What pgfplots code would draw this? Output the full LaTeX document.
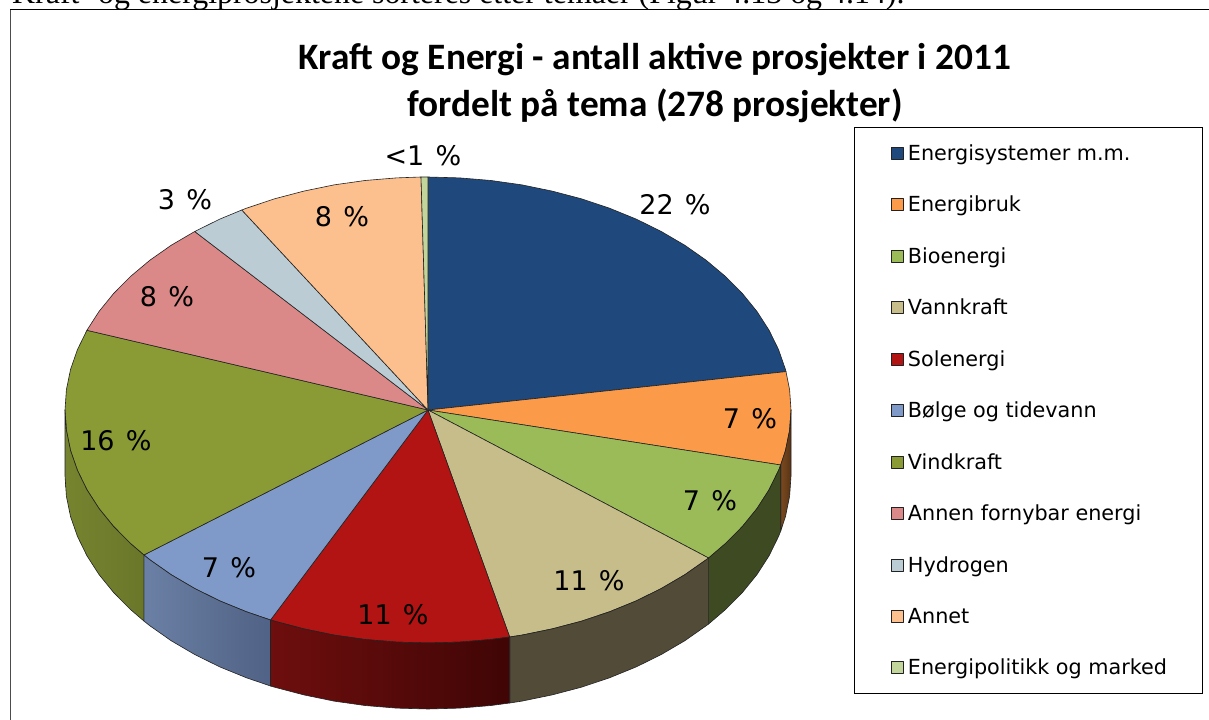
\documentclass[border=0pt]{standalone}
\usepackage{pgfplots}
\pgfplotsset{compat=1.18}
\usepackage{fontspec}
\setmainfont{DejaVu Sans}
\newfontfamily\titlefont{Carlito}
\newfontfamily\bodyfont{Liberation Serif}
\definecolor{c1}{HTML}{1F497D}
\definecolor{c2}{HTML}{FB9A48}
\definecolor{c3}{HTML}{9BBB59}
\definecolor{c4}{HTML}{C6BD8A}
\definecolor{c5}{HTML}{B21313}
\definecolor{c6}{HTML}{7F9AC8}
\definecolor{c7}{HTML}{8A9A35}
\definecolor{c8}{HTML}{DB8888}
\definecolor{c9}{HTML}{BCCCD4}
\definecolor{c10}{HTML}{FCC08F}
\definecolor{c11}{HTML}{C2D69B}
\definecolor{edge}{HTML}{222222}
\definecolor{sideOrA}{HTML}{7A4A20}
\definecolor{sideOrB}{HTML}{5A3414}
\definecolor{sideG}{HTML}{3E4A22}
\definecolor{sideT}{HTML}{524B38}
\definecolor{sideRa}{HTML}{6E0E0E}
\definecolor{sideRb}{HTML}{400505}
\definecolor{sideBa}{HTML}{6A80A4}
\definecolor{sideBb}{HTML}{506286}
\definecolor{sideOa}{HTML}{76842F}
\definecolor{sideOb}{HTML}{6A772A}
\newcommand{\pct}[1]{#1\hspace{.42em}\%}
\begin{document}
\begin{tikzpicture}
\clip[use as bounding box] (0,0) rectangle (1209bp,720bp);
\begin{axis}[
  at={(0,0)}, anchor=south west,
  width=1209bp, height=720bp, scale only axis,
  xmin=0, xmax=1209, ymin=0, ymax=720,
  hide axis, clip=false, no markers,
  legend cell align=left,
  legend image code/.code={
    \path[draw=none,fill=none] (0,-9bp) rectangle (52bp,9bp);
    \draw[draw=edge,line width=0.7bp,#1,draw=edge] (37bp,-6bp) rectangle (49bp,6bp);
  },
  legend style={
    at={(axis cs:853.5,593)}, anchor=north west,
    draw=black, line width=0.8bp, fill=white,
    inner xsep=0pt, inner ysep=15bp, row sep=30.3bp,
    column sep=0pt,
    font=\fontsize{20.75bp}{22bp}\selectfont,
  },
  every axis plot/.append style={line join=round},
]
% slices
\addplot[draw=edge,line width=0.6bp,fill=c1] coordinates {(428,310)(428,543)(459.6,542.1)(491,539.5)(522,535.1)(552.1,528.9)(581.4,521.2)(609.5,511.8)(636.2,500.9)(661.3,488.5)(684.7,474.8)(706.1,459.8)(725.4,443.6)(742.4,426.5)(757,408.5)(769.1,389.7)(778.6,370.3)(785.5,350.4)(786,348.4)} -- cycle;
\addlegendentry{\makebox[292bp][l]{Energisystemer m.m.}}
\addplot[draw=edge,line width=0.6bp,fill=c2] coordinates {(428,310)(786,348.4)(789.6,330.3)(791,310)(789.6,289.7)(785.5,269.6)(780.7,255)} -- cycle;
\addlegendentry{Energibruk}
\addplot[draw=edge,line width=0.6bp,fill=c3] coordinates {(428,310)(780.7,255)(778.6,249.7)(769.1,230.3)(757,211.5)(742.4,193.5)(725.4,176.4)(708.6,162)} -- cycle;
\addlegendentry{Bioenergi}
\addplot[draw=edge,line width=0.6bp,fill=c4] coordinates {(428,310)(708.6,162)(706.1,160.2)(684.7,145.2)(661.3,131.5)(636.2,119.1)(609.5,108.2)(581.4,98.8)(552.1,91.1)(522,84.9)(509.7,83)} -- cycle;
\addlegendentry{Vannkraft}
\addplot[draw=edge,line width=0.6bp,fill=c5] coordinates {(428,310)(509.7,83)(491,80.5)(459.6,77.9)(428,77)(396.4,77.9)(365,80.5)(334,84.9)(303.9,91.1)(274.6,98.8)(270.5,100)} -- cycle;
\addlegendentry{Solenergi}
\addplot[draw=edge,line width=0.6bp,fill=c6] coordinates {(428,310)(270.5,100)(246.5,108.2)(219.8,119.1)(194.7,131.5)(171.3,145.2)(149.9,160.2)(143.9,165)} -- cycle;
\addlegendentry{Bølge og tidevann}
\addplot[draw=edge,line width=0.6bp,fill=c7] coordinates {(428,310)(143.9,165)(130.6,176.4)(113.6,193.5)(99,211.5)(86.9,230.3)(77.4,249.7)(70.5,269.6)(66.4,289.7)(65,310)(66.4,330.3)(70.5,350.4)(77.4,370.3)(86.9,389.7)} -- cycle;
\addlegendentry{Vindkraft}
\addplot[draw=edge,line width=0.6bp,fill=c8] coordinates {(428,310)(86.9,389.7)(99,408.5)(113.6,426.5)(130.6,443.6)(149.9,459.8)(171.3,474.8)(194.7,488.5)} -- cycle;
\addlegendentry{Annen fornybar energi}
\addplot[draw=edge,line width=0.6bp,fill=c9] coordinates {(428,310)(194.7,488.5)(219.8,500.9)(241.8,510)} -- cycle;
\addlegendentry{Hydrogen}
\addplot[draw=edge,line width=0.6bp,fill=c10] coordinates {(428,310)(241.8,510)(246.5,511.8)(274.6,521.2)(303.9,528.9)(334,535.1)(365,539.5)(396.4,542.1)(421,543)} -- cycle;
\addlegendentry{Annet}
\addplot[draw=edge,line width=0.6bp,fill=c11] coordinates {(428,310)(421,543)(428,543)} -- cycle;
\addlegendentry{Energipolitikk og marked}
% side walls
\addplot[forget plot,draw=edge,line width=0.6bp,left color=sideOrA,right color=sideOrB] coordinates {(791,310)(789.6,289.7)(785.5,269.6)(780.7,255)(780.7,189)(785.5,203.6)(789.6,223.7)(791,244)} -- cycle;
\addplot[forget plot,draw=edge,line width=0.6bp,fill=sideG] coordinates {(780.7,255)(778.6,249.7)(769.1,230.3)(757,211.5)(742.4,193.5)(725.4,176.4)(708.6,162)(708.6,96)(725.4,110.4)(742.4,127.5)(757,145.5)(769.1,164.3)(778.6,183.7)(780.7,189)} -- cycle;
\addplot[forget plot,draw=edge,line width=0.6bp,fill=sideT] coordinates {(708.6,162)(706.1,160.2)(684.7,145.2)(661.3,131.5)(636.2,119.1)(609.5,108.2)(581.4,98.8)(552.1,91.1)(522,84.9)(509.7,83)(509.7,17)(522,18.9)(552.1,25.1)(581.4,32.8)(609.5,42.2)(636.2,53.1)(661.3,65.5)(684.7,79.2)(706.1,94.2)(708.6,96)} -- cycle;
\addplot[forget plot,draw=edge,line width=0.6bp,left color=sideRa,right color=sideRb] coordinates {(509.7,83)(491,80.5)(459.6,77.9)(428,77)(396.4,77.9)(365,80.5)(334,84.9)(303.9,91.1)(274.6,98.8)(270.5,100)(270.5,34)(274.6,32.8)(303.9,25.1)(334,18.9)(365,14.5)(396.4,11.9)(428,11)(459.6,11.9)(491,14.5)(509.7,17)} -- cycle;
\addplot[forget plot,draw=edge,line width=0.6bp,left color=sideBa,right color=sideBb] coordinates {(270.5,100)(246.5,108.2)(219.8,119.1)(194.7,131.5)(171.3,145.2)(149.9,160.2)(143.9,165)(143.9,99)(149.9,94.2)(171.3,79.2)(194.7,65.5)(219.8,53.1)(246.5,42.2)(270.5,34)} -- cycle;
\addplot[forget plot,draw=edge,line width=0.6bp,left color=sideOa,right color=sideOb] coordinates {(143.9,165)(130.6,176.4)(113.6,193.5)(99,211.5)(86.9,230.3)(77.4,249.7)(70.5,269.6)(66.4,289.7)(65,310)(65,244)(66.4,223.7)(70.5,203.6)(77.4,183.7)(86.9,164.3)(99,145.5)(113.6,127.5)(130.6,110.4)(143.9,99)} -- cycle;
% frame
\addplot[forget plot,draw=black!70,line width=1bp] coordinates {(10,0)(10,710)};
\addplot[forget plot,draw=black,line width=1bp] coordinates {(10,710)(1209,710)};
% data labels
\begin{scope}[every node/.style={font=\fontsize{27bp}{29bp}\selectfont,text=black,inner sep=0pt}]
\node at (axis cs:675,515) {\pct{22}};
\node at (axis cs:750,301) {\pct{7}};
\node at (axis cs:710,219) {\pct{7}};
\node at (axis cs:589,139) {\pct{11}};
\node at (axis cs:393,105) {\pct{11}};
\node at (axis cs:229,152) {\pct{7}};
\node at (axis cs:116,279) {\pct{16}};
\node at (axis cs:167,423) {\pct{8}};
\node at (axis cs:185,520) {\pct{3}};
\node at (axis cs:342,503) {\pct{8}};
\node at (axis cs:423,564) {\pct{<1}};
\end{scope}
% title
\node[font=\titlefont\bfseries\fontsize{37.3bp}{40bp}\selectfont,inner sep=0pt] at (axis cs:655,660) {Kraft og Energi - antall aktive prosjekter i 2011};
\node[font=\titlefont\bfseries\fontsize{37.3bp}{40bp}\selectfont,inner sep=0pt] at (axis cs:655,614) {fordelt på tema (278 prosjekter)};
% running text above the chart
\node[font=\bodyfont\fontsize{31.9bp}{34bp}\selectfont,anchor=base west,inner sep=0pt] at (axis cs:12,716) {Kraft- og energiprosjektene sorteres etter temaer (Figur 4.13 og 4.14).};
\end{axis}
\end{tikzpicture}
\end{document}
